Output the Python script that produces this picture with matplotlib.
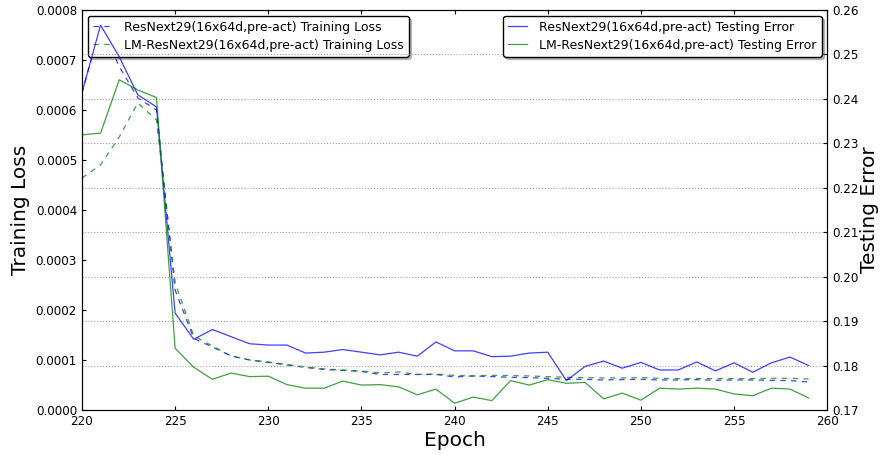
import matplotlib
matplotlib.use('Agg')
import matplotlib.pyplot as plt

epochs = list(range(220, 260))

# training loss (left axis)
loss_resnext = [0.000634, 0.00077, 0.000687, 0.000624, 0.000600, 0.000240, 0.000143, 0.000126,
                0.000108, 0.000100, 0.000095, 0.000090, 0.000085, 0.000081, 0.000079, 0.000077,
                0.000071, 0.000071, 0.000071, 0.000071, 0.000066, 0.000068, 0.0000667, 0.0000653,
                0.0000647, 0.0000633, 0.0000613, 0.0000613, 0.000060, 0.0000607, 0.0000613, 0.000060,
                0.000060, 0.0000607, 0.0000593, 0.000060, 0.000060, 0.0000593, 0.0000587, 0.000056]
loss_lm = [0.000464, 0.00049, 0.000546, 0.000614, 0.000580, 0.000255, 0.000148, 0.000128,
           0.000108, 0.000100, 0.000096, 0.000091, 0.000086, 0.000082, 0.000080, 0.000078,
           0.000074, 0.000076, 0.000071, 0.000072, 0.000069, 0.000068, 0.0000693, 0.0000687,
           0.000068, 0.0000667, 0.0000653, 0.0000647, 0.000064, 0.000064, 0.0000647, 0.0000633,
           0.0000627, 0.0000627, 0.0000627, 0.0000627, 0.0000627, 0.0000633, 0.0000633, 0.000062]

# testing error (right axis)
err_resnext = [0.2413, 0.2566, 0.2495, 0.2409, 0.2382, 0.1918, 0.1859, 0.1881, 0.1865, 0.1849,
               0.1846, 0.1846, 0.1828, 0.1830, 0.1836, 0.1830, 0.1824, 0.1830, 0.1821, 0.1853,
               0.1833, 0.1833, 0.1820, 0.1821, 0.1828, 0.1830, 0.1766, 0.1798, 0.1810, 0.1794,
               0.1807, 0.1790, 0.1790, 0.1808, 0.1788, 0.1806, 0.1785, 0.1806, 0.1819, 0.1800]
err_lm = [0.2319, 0.2323, 0.2443, 0.2420, 0.2403, 0.1839, 0.1796, 0.1769, 0.1783, 0.1775,
          0.1776, 0.1757, 0.1749, 0.1749, 0.1765, 0.1756, 0.1757, 0.1752, 0.1734, 0.1747,
          0.1715, 0.1729, 0.1721, 0.1766, 0.1756, 0.1768, 0.1760, 0.1762, 0.1725, 0.1738,
          0.1722, 0.1749, 0.1747, 0.1749, 0.1747, 0.1736, 0.1732, 0.1749, 0.1747, 0.1727]

plt.rcParams['font.family'] = 'DejaVu Sans'
plt.rcParams['xtick.direction'] = 'in'
plt.rcParams['ytick.direction'] = 'in'

fs = 8.6
leg_kw = dict(fontsize=9, fancybox=True, shadow={'alpha': 0.35}, framealpha=1,
              edgecolor='black', handlelength=1.5, handletextpad=1.0,
              labelspacing=0.4, borderaxespad=0.45)

fig = plt.figure(figsize=(8.81, 4.55), dpi=100)
ax1 = fig.add_axes([0.093, 0.099, 0.846, 0.879])
ax1.plot(epochs, loss_resnext, color='b', lw=0.9, alpha=0.75, dashes=(4.3, 4.3),
         label='ResNext29(16x64d,pre-act) Training Loss')
ax1.plot(epochs, loss_lm, color='g', lw=0.9, alpha=0.75, dashes=(4.3, 4.3),
         label='LM-ResNext29(16x64d,pre-act) Training Loss')
ax1.set_xlim(220, 260)
ax1.set_ylim(0, 0.0008)
ax1.set_yticks([i * 0.0001 for i in range(9)])
ax1.set_yticklabels(['%.4f' % (i * 0.0001) for i in range(9)])
ax1.set_xlabel('Epoch', fontsize=14.5, labelpad=2)
ax1.set_ylabel('Training Loss', fontsize=14.5)
ax1.tick_params(labelsize=fs, top=True, length=3)
ax1.legend(loc='upper left', **leg_kw)

ax2 = ax1.twinx()
ax2.plot(epochs, err_resnext, '-', color='b', lw=0.9, alpha=0.75,
         label='ResNext29(16x64d,pre-act) Testing Error')
ax2.plot(epochs, err_lm, '-', color='g', lw=0.9, alpha=0.75,
         label='LM-ResNext29(16x64d,pre-act) Testing Error')
ax2.set_ylim(0.17, 0.26)
ax2.set_yticks([0.17 + i * 0.01 for i in range(10)])
ax2.set_yticklabels(['%.2f' % (0.17 + i * 0.01) for i in range(10)])
ax2.set_ylabel('Testing Error', fontsize=14.5, labelpad=1)
ax2.tick_params(labelsize=fs, length=3)
ax2.grid(True, axis='y', linestyle=':', color='#a0a0a0', lw=0.8)
ax2.legend(loc='upper right', **leg_kw)

fig.savefig('out.png', dpi=100)
